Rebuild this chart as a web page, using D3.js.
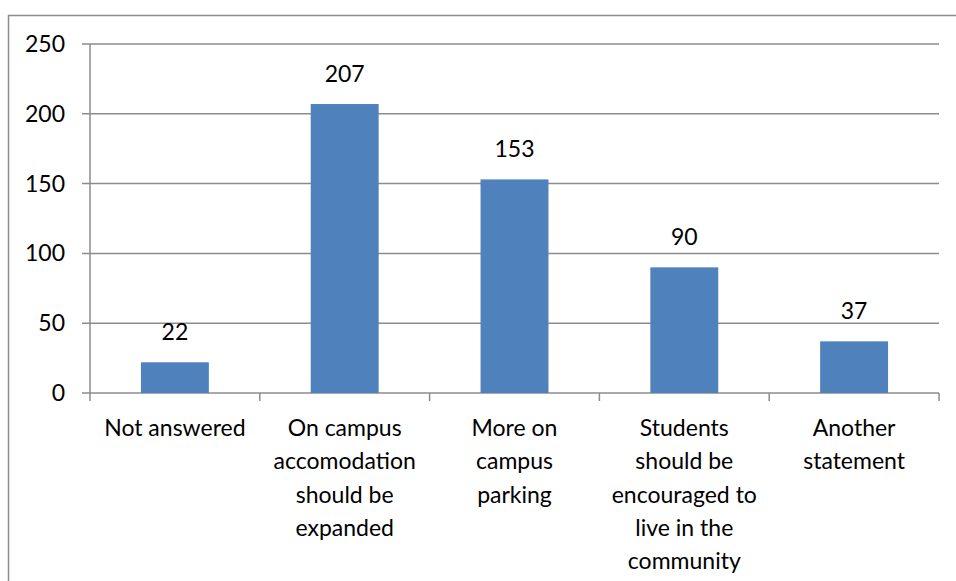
<!DOCTYPE html>
<html><head><meta charset="utf-8">
<script src="https://cdn.jsdelivr.net/npm/d3@7"></script>
<style>html,body{margin:0;padding:0;background:#fff;}svg{display:block;}</style>
</head><body>
<script>
const categories = ["Not answered", "On campus accomodation should be expanded", "More on campus parking", "Students should be encouraged to live in the community", "Another statement"];
const categoryLines = [["Not answered"], ["On campus", "accomodation", "should be", "expanded"], ["More on", "campus", "parking"], ["Students", "should be", "encouraged to", "live in the", "community"], ["Another", "statement"]];
const values = [22, 207, 153, 90, 37];
const yTicks = [0, 50, 100, 150, 200, 250];

const W = 956, H = 581;
const font = "Lato, 'Open Sans', sans-serif";
const fs = 23;
const svg = d3.select("body").append("svg").attr("width", W).attr("height", H);
svg.append("rect").attr("width", W).attr("height", H).attr("fill", "#fff");
// outer chart border (clipped by window on right/bottom)
svg.append("rect").attr("x", 8.5).attr("y", 15.5).attr("width", 960).attr("height", 600)
  .attr("fill", "none").attr("stroke", "#8c8c8c").attr("stroke-width", 1.5);

const pLeft = 90, pRight = 939, pTop = 44, pBottom = 393;
const x = d3.scaleBand().domain(categories).range([pLeft, pRight]).paddingInner(0.6).paddingOuter(0.3);
const xb = d3.scaleBand().domain(categories).range([pLeft, pRight]);
const y = d3.scaleLinear().domain([0, 250]).range([pBottom, pTop]);

// gridlines
svg.append("g").selectAll("line").data(yTicks).join("line")
  .attr("x1", pLeft - 8).attr("x2", pRight).attr("y1", d => y(d)).attr("y2", d => y(d))
  .attr("stroke", "#8c8c8c").attr("stroke-width", 1.5);

// y axis line
svg.append("line").attr("x1", pLeft).attr("x2", pLeft).attr("y1", pTop).attr("y2", pBottom)
  .attr("stroke", "#8c8c8c").attr("stroke-width", 1.5);

// y tick labels
svg.append("g").selectAll("text").data(yTicks).join("text")
  .attr("x", 65).attr("y", d => y(d)).attr("dy", "0.35em").attr("text-anchor", "end")
  .attr("font-family", font).attr("font-size", fs).attr("fill", "#000").text(d => d);

// bars
svg.append("g").selectAll("rect").data(values).join("rect")
  .attr("x", (d, i) => x(categories[i])).attr("width", x.bandwidth())
  .attr("y", d => y(d)).attr("height", d => y(0) - y(d)).attr("fill", "#4F81BD");

// x axis ticks
const xTickPos = categories.map(c => xb(c)).concat([pRight]);
svg.append("g").selectAll("line").data(xTickPos).join("line")
  .attr("x1", d => d).attr("x2", d => d).attr("y1", pBottom).attr("y2", pBottom + 8)
  .attr("stroke", "#8c8c8c").attr("stroke-width", 1.5);

// value labels
svg.append("g").selectAll("text").data(values).join("text")
  .attr("x", (d, i) => xb(categories[i]) + xb.bandwidth() / 2).attr("y", d => y(d) - 22)
  .attr("text-anchor", "middle").attr("font-family", font).attr("font-size", fs).attr("fill", "#000")
  .text(d => d);

// category labels
const cg = svg.append("g");
categories.forEach((c, i) => {
  const t = cg.append("text").attr("text-anchor", "middle").attr("font-family", font)
    .attr("font-size", fs).attr("fill", "#000");
  categoryLines[i].forEach((ln, j) => {
    t.append("tspan").attr("x", xb(c) + xb.bandwidth() / 2).attr("y", 436 + j * 33.3).text(ln);
  });
});
</script>
</body></html>
